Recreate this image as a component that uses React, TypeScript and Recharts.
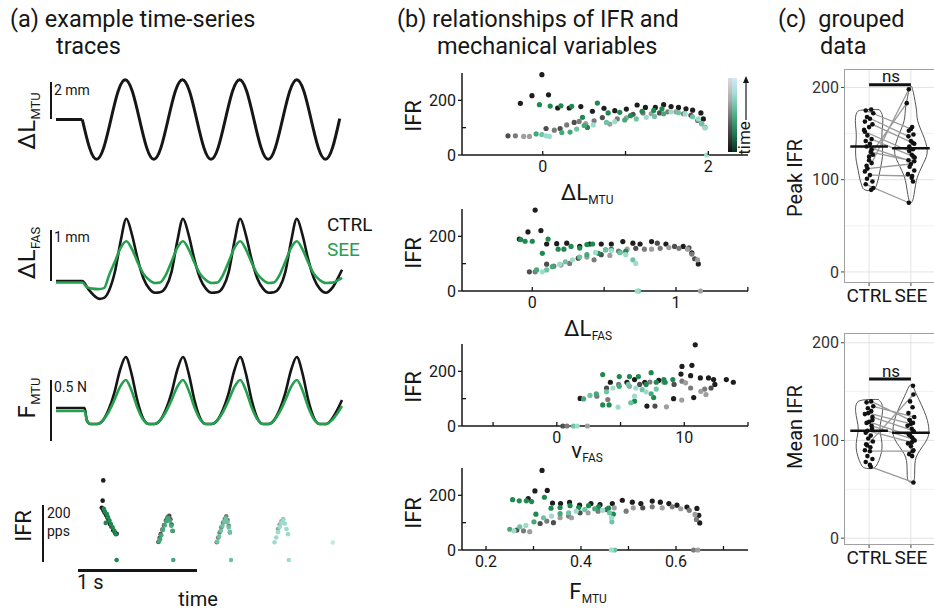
import React from 'react';
import { ScatterChart, Scatter, LineChart, Line, ComposedChart, XAxis, YAxis, ReferenceLine } from 'recharts';

const FONT = 'Roboto, "Noto Sans", "DejaVu Sans", sans-serif';
const INK = '#161616';
const GREEN = '#25a04f';
const CTRL_SHADES = ['#1d1d1d', '#4e4e4e', '#7a7a7a', '#9e9e9e'];
const SEE_SHADES = ['#1f8a4f', '#44a878', '#6cc4a2', '#9ddccd', '#bfe9e2'];

// ---------- (a) example traces: [time (s), value] ----------
const MTU_HOLD = [[0, 0], [0.23, 0]];
const MTU_SINE = [[0.23,0],[0.2925,-1.52],[0.355,-2.15],[0.4175,-1.52],[0.48,0],[0.5425,1.52],[0.605,2.15],[0.6675,1.52],[0.73,0],[0.7925,-1.52],[0.855,-2.15],[0.9175,-1.52],[0.98,0],[1.0425,1.52],[1.105,2.15],[1.1675,1.52],[1.23,0],[1.2925,-1.52],[1.355,-2.15],[1.4175,-1.52],[1.48,0],[1.5425,1.52],[1.605,2.15],[1.6675,1.52],[1.73,0],[1.7925,-1.52],[1.855,-2.15],[1.9175,-1.52],[1.98,0],[2.0425,1.52],[2.105,2.15],[2.1675,1.52],[2.23,0],[2.2925,-1.52],[2.355,-2.15],[2.4175,-1.52],[2.48,0.05]];

const FAS_CTRL = [[0,0],[0.23,0],[0.28,-0.15],[0.33,-0.28],[0.38,-0.35],[0.42,-0.33],[0.465,-0.18],[0.515,0.18],[0.565,0.78],[0.615,1.22],[0.665,0.9],[0.715,0.42],[0.765,0.05],[0.815,-0.15],[0.865,-0.23],[0.91,-0.22],[0.96,-0.12],[1.01,0.18],[1.06,0.78],[1.11,1.22],[1.16,0.9],[1.21,0.42],[1.26,0.05],[1.31,-0.15],[1.36,-0.23],[1.41,-0.22],[1.46,-0.12],[1.51,0.18],[1.56,0.78],[1.61,1.22],[1.66,0.9],[1.71,0.42],[1.76,0.05],[1.81,-0.15],[1.86,-0.23],[1.905,-0.22],[1.955,-0.12],[2.005,0.18],[2.055,0.78],[2.105,1.22],[2.155,0.9],[2.205,0.42],[2.255,0.05],[2.305,-0.15],[2.36,-0.23],[2.42,-0.12],[2.47,0.08],[2.5,0.22]];
const FAS_SEE = [[0,-0.03],[0.23,-0.03],[0.27,-0.12],[0.32,-0.15],[0.37,-0.16],[0.42,-0.14],[0.465,0.12],[0.515,0.38],[0.565,0.65],[0.615,0.78],[0.665,0.62],[0.715,0.36],[0.765,0.14],[0.815,0.02],[0.865,-0.04],[0.91,-0.03],[0.96,0.12],[1.01,0.38],[1.06,0.65],[1.11,0.78],[1.16,0.62],[1.21,0.36],[1.26,0.14],[1.31,0.02],[1.36,-0.04],[1.41,-0.03],[1.46,0.12],[1.51,0.38],[1.56,0.65],[1.61,0.78],[1.66,0.62],[1.71,0.36],[1.76,0.14],[1.81,0.02],[1.86,-0.04],[1.905,-0.03],[1.955,0.12],[2.005,0.38],[2.055,0.65],[2.105,0.78],[2.155,0.62],[2.205,0.36],[2.255,0.14],[2.305,0.02],[2.36,-0.04],[2.42,-0.03],[2.47,0.02],[2.5,0.06]];

const F_CTRL = [[0,0.133],[0.25,0.133],[0.27,0.03],[0.3,0],[0.36,0],[0.41,0.03],[0.46,0.12],[0.51,0.26],[0.56,0.45],[0.61,0.558],[0.66,0.42],[0.71,0.2],[0.76,0.05],[0.81,0],[0.86,0],[0.91,0.03],[0.96,0.12],[1.01,0.26],[1.06,0.45],[1.11,0.558],[1.16,0.42],[1.21,0.2],[1.26,0.05],[1.31,0],[1.36,0],[1.41,0.03],[1.46,0.12],[1.51,0.26],[1.56,0.45],[1.61,0.558],[1.66,0.42],[1.71,0.2],[1.76,0.05],[1.81,0],[1.86,0],[1.905,0.03],[1.955,0.12],[2.005,0.26],[2.055,0.45],[2.105,0.558],[2.155,0.42],[2.205,0.2],[2.255,0.05],[2.305,0],[2.36,0],[2.41,0.04],[2.46,0.12],[2.5,0.2]];
const F_SEE = [[0,0.108],[0.25,0.108],[0.27,0.03],[0.3,0],[0.36,0],[0.41,0.03],[0.46,0.1],[0.51,0.2],[0.56,0.31],[0.61,0.367],[0.66,0.28],[0.71,0.14],[0.76,0.04],[0.81,0],[0.86,0],[0.91,0.03],[0.96,0.1],[1.01,0.2],[1.06,0.31],[1.11,0.367],[1.16,0.28],[1.21,0.14],[1.26,0.04],[1.31,0],[1.36,0],[1.41,0.03],[1.46,0.1],[1.51,0.2],[1.56,0.31],[1.61,0.367],[1.66,0.28],[1.71,0.14],[1.76,0.04],[1.81,0],[1.86,0],[1.905,0.03],[1.955,0.1],[2.005,0.2],[2.055,0.31],[2.105,0.367],[2.155,0.28],[2.205,0.14],[2.255,0.04],[2.305,0],[2.36,0],[2.41,0.03],[2.46,0.09],[2.5,0.15]];

// IFR over time: [time (s), IFR (pps), stretch cycle]
const IFR_T_CTRL = [[0.413,283,0],[0.408,211,0],[0.4,186,0],[0.415,176,0],[0.425,168,0],[0.438,160,0],[0.45,150,0],[0.46,140,0],[0.472,128,0],[0.485,118,0],[0.5,106,0],[0.515,98,0],[0.53,93,0],
[0.895,64,1],[0.905,78,1],[0.915,92,1],[0.93,108,1],[0.945,124,1],[0.96,140,1],[0.975,152,1],[0.99,157,1],[1.0,145,1],[1.01,126,1],[1.02,103,1],
[1.405,63,2],[1.418,80,2],[1.43,98,2],[1.445,116,2],[1.46,133,2],[1.475,146,2],[1.488,155,2],[1.5,142,2],[1.51,122,2],[1.52,98,2],
[1.94,110,3],[1.955,126,3],[1.97,138,3],[1.985,145,3]];
const IFR_T_SEE = [[0.418,182,0],[0.428,172,0],[0.435,132,0],[0.445,163,0],[0.455,152,0],[0.468,140,0],[0.48,128,0],[0.495,116,0],[0.51,104,0],[0.522,92,0],[0.53,0,0],
[0.9,66,1],[0.91,74,1],[0.92,88,1],[0.935,108,1],[0.95,124,1],[0.965,138,1],[0.98,149,1],[0.995,140,1],[1.008,122,1],[1.018,104,1],[1.025,0,1],
[1.41,66,2],[1.425,84,2],[1.44,104,2],[1.455,121,2],[1.47,136,2],[1.485,147,2],[1.498,134,2],[1.51,116,2],[1.52,100,2],[1.53,0,2],
[1.91,63,3],[1.925,80,3],[1.94,99,3],[1.955,117,3],[1.97,131,3],[1.985,142,3],[2.0,130,3],[2.015,110,3],[2.028,92,3],[2.035,0,3],
[2.42,62,4]];

// ---------- (b) IFR vs mechanical variables: [x, IFR, cycle] ----------
const B1_CTRL = [[-0.27,189,0],[-0.13,217,0],[-0.01,294,0],[0.07,220,0],[0.18,172,0],[0.32,172,0],[0.46,177,0],[0.6,160,0],[0.74,171,0],[0.87,162,0],[1.01,168,0],[1.14,183,0],[1.24,174,0],[1.36,174,0],[1.46,184,0],[1.55,177,0],[1.64,174,0],[1.73,169,0],[1.81,164,0],[1.91,154,0],[1.94,132,0],
[-0.42,70,1],[-0.33,70,2],[-0.23,68,3],[-0.16,68,3],[0.04,97,1],[0.14,91,2],[0.21,97,1],[0.29,110,2],[0.38,119,1],[0.44,123,2],[0.52,115,3],[0.62,125,2],[0.72,137,1],[0.81,113,3],[0.9,132,2],[1.01,136,3],[1.09,149,1],[1.21,154,2],[1.31,151,3],[1.41,154,1],[1.51,158,2],[1.61,158,3],[1.7,151,2],[1.79,145,1],[1.87,126,2],[1.92,115,3],[1.96,101,2]];
const B1_SEE = [[-0.04,184,0],[0.09,179,0],[0.22,180,0],[0.35,178,0],[0.48,138,0],[0.54,101,0],[0.66,190,0],[0.79,154,0],[0.93,156,0],[1.06,144,0],[1.2,160,0],[1.34,163,0],[1.44,169,0],
[-0.08,77,1],[-0.01,75,2],[0.04,70,3],[0.08,68,3],[0.23,82,1],[0.33,84,1],[0.41,95,2],[0.5,108,1],[0.61,110,3],[0.77,119,2],[0.87,122,3],[0.99,128,1],[1.13,132,2],[1.25,138,3],[1.35,141,2],[1.46,151,1],[1.55,158,3],[1.64,155,2],[1.72,150,3],[1.81,140,2],[1.88,132,3],[1.92,114,2],[1.96,99,3],[1.98,0,3]];

const B2_CTRL = [[-0.09,190,0],[-0.03,216,0],[0.02,296,0],[0.06,221,0],[0.1,172,0],[0.17,173,0],[0.24,175,0],[0.33,163,0],[0.4,172,0],[0.48,172,0],[0.55,172,0],[0.63,181,0],[0.7,175,0],[0.75,172,0],[0.83,181,0],[0.87,175,1],[0.93,172,0],[0.99,163,1],[1.05,163,0],[1.09,158,1],[1.11,140,0],[1.13,118,1],[1.155,99,0],
[-0.02,70,1],[0.02,70,2],[0.1,98,1],[0.15,91,2],[0.2,95,3],[0.26,101,2],[0.32,120,1],[0.38,124,3],[0.43,114,2],[0.48,133,1],[0.54,130,3],[0.6,146,2],[0.66,153,3],[0.72,156,1],[0.78,153,2],[0.83,153,3],[0.89,156,2],[0.95,159,3],[1.02,156,2],[1.08,153,3],[1.11,135,2],[1.15,114,3],[1.17,0,3]];
const B2_SEE = [[-0.08,188,0],[-0.05,182,0],[0.0,182,0],[0.11,190,0],[0.07,138,0],[0.18,153,0],[0.22,153,0],[0.27,163,0],[0.33,157,0],[0.38,170,0],[0.42,172,0],[0.46,138,0],[0.51,151,0],[0.55,153,0],[0.61,141,0],[0.65,145,0],
[0.03,77,1],[0.07,70,3],[0.1,77,2],[0.14,89,1],[0.19,98,3],[0.23,107,2],[0.28,114,3],[0.33,124,2],[0.38,133,1],[0.44,141,3],[0.51,151,2],[0.55,148,3],[0.61,140,2],[0.65,133,3],[0.7,114,2],[0.72,101,3],[0.73,0,3],[0.74,0,2]];

const B3_CTRL = [[10.86,297,0],[9.82,218,0],[10.6,222,0],[9.74,190,0],[10.5,184,0],[11.26,176,0],[11.9,176,0],[12.3,170,0],[13.3,170,0],[13.85,160,0],[12.4,152,0],[9.16,100,0],[10.74,104,0],[7.07,73,0],[7.7,73,1],[1.83,101,0],[4.2,160,0],[5.5,160,0],[6.1,170,0],[6.9,160,0],[8.0,167,0],
[3.14,109,2],[3.9,139,1],[4.85,152,2],[5.7,145,3],[6.5,152,1],[7.3,161,2],[8.4,160,3],[9.2,152,1],[9.82,164,2],[10.1,158,3],[10.5,139,2],[11.3,127,3],[11.6,135,2],[12.1,139,1],[11.7,115,3],[9.8,95,3],[8.6,70,3],[0.47,0,1],[0.8,0,2],[2.4,0,3],[4.0,97,2]];
const B3_SEE = [[3.6,188,0],[4.9,181,0],[5.7,181,0],[6.4,181,0],[7.4,195,0],[8.4,170,0],[9.1,170,0],[8.5,160,0],[7.8,160,0],[7.0,152,0],[7.6,104,0],[6.1,91,0],[3.6,77,0],[4.1,77,0],
[2.1,99,1],[2.6,112,2],[3.1,118,1],[3.9,125,2],[4.4,139,3],[4.9,145,1],[5.6,152,2],[6.2,139,3],[6.7,133,2],[7.0,125,3],[7.4,118,1],[7.8,135,2],[6.1,109,3],[5.8,85,2],[4.8,69,3],[1.6,0,3],[1.3,0,2]];

const B4_CTRL = [[0.318,291,0],[0.303,216,0],[0.329,218,0],[0.289,188,0],[0.34,172,0],[0.357,170,0],[0.376,174,0],[0.397,164,0],[0.421,170,0],[0.44,166,0],[0.466,170,0],[0.487,182,0],[0.508,175,0],[0.526,170,0],[0.55,179,0],[0.567,175,0],[0.585,170,0],[0.602,164,0],[0.623,157,0],[0.644,152,0],[0.648,127,0],[0.65,99,0],
[0.265,73,1],[0.279,70,2],[0.292,67,3],[0.314,97,1],[0.328,106,2],[0.342,100,1],[0.356,118,3],[0.374,124,2],[0.38,118,3],[0.398,136,1],[0.415,136,3],[0.436,142,2],[0.454,148,1],[0.47,154,3],[0.495,142,2],[0.51,154,3],[0.53,154,1],[0.55,158,2],[0.571,154,3],[0.592,158,2],[0.61,151,3],[0.628,145,2],[0.64,130,3],[0.643,112,2],[0.646,0,3],[0.637,0,2]];
const B4_SEE = [[0.256,184,0],[0.27,180,0],[0.285,180,0],[0.296,177,0],[0.323,193,0],[0.305,131,0],[0.337,153,0],[0.356,155,0],[0.377,162,0],[0.395,155,0],[0.416,162,0],[0.437,158,0],[0.458,153,0],[0.468,131,0],
[0.25,76,1],[0.259,70,3],[0.271,85,2],[0.284,90,3],[0.301,103,1],[0.321,118,2],[0.338,124,3],[0.356,133,1],[0.374,136,2],[0.39,142,3],[0.408,148,2],[0.429,151,1],[0.446,145,3],[0.46,136,2],[0.464,118,3],[0.465,103,2],[0.464,0,3],[0.471,0,2]];

// ---------- (c) grouped data ----------
// dots: [IFR, jitter]; pairs: [ctrl IFR, ctrl jitter, SEE IFR, SEE jitter]; violins: [IFR, half width]
const PEAK_CTRL = [[176,0.05],[172,0.1],[166,0.02],[163,-0.1],[157,0.0],[154,-0.12],[148,-0.04],[142,-0.08],[139,0.02],[133,0.06],[127,0.09],[121,0.0],[115,-0.06],[109,-0.1],[101,-0.05],[98,0.08],[91,0.1],[89,0.05]];
const PEAK_SEE = [[157,0.03],[153,-0.05],[149,0.06],[142,0.0],[139,0.08],[136,-0.04],[133,0.05],[127,0.02],[124,0.09],[114,-0.03],[110,0.08],[106,-0.07],[102,0.02],[98,0.05]];
const PEAK_PAIRS = [[175,-0.08,155,0.0],[168,-0.05,147,-0.06],[160,0.08,140,0.04],[152,-0.1,131,-0.04],[144,0.06,125,0.06],[136,-0.06,121,-0.06],[130,0.04,120,0.08],[125,0.0,183,-0.1],[118,0.06,198,-0.05],[112,-0.04,117,0.0],[105,0.02,104,0.03],[95,-0.08,75,-0.05]];
const PEAK_VIOLIN_CTRL = [[176,0.24],[173,0.3],[168,0.33],[160,0.33],[150,0.3],[140,0.31],[130,0.33],[120,0.31],[110,0.26],[100,0.22],[93,0.17],[88,0.13]];
const PEAK_VIOLIN_SEE = [[201,0.02],[195,0.06],[185,0.1],[175,0.14],[168,0.14],[160,0.18],[150,0.28],[140,0.36],[132,0.4],[125,0.38],[118,0.3],[110,0.22],[103,0.15],[95,0.11],[88,0.09],[80,0.06],[75,0.03]];
const PEAK_MEANS = [136, 134];
const PEAK_SIG = 203;

const MEAN_CTRL = [[139,-0.06],[133,-0.03],[130,0.05],[127,-0.1],[121,0.08],[118,-0.06],[112,0.07],[108,-0.08],[105,0.04],[102,-0.02],[99,0.09],[96,-0.07],[93,0.03],[90,-0.1],[84,-0.04],[81,0.08],[78,-0.08],[75,0.02]];
const MEAN_SEE = [[156,0.05],[140,-0.02],[134,0.04],[128,-0.06],[121,-0.03],[118,0.05],[115,-0.08],[112,0.02],[109,0.07],[106,-0.05],[103,0.03],[100,0.09],[97,-0.07],[94,0.0],[90,0.06],[86,-0.04],[84,0.03]];
const MEAN_PAIRS = [[140,0.05,121,-0.03],[135,0.1,124,0.08],[128,-0.02,117,0.0],[124,0.08,110,0.05],[119,0.0,105,-0.02],[115,0.06,101,0.06],[110,-0.04,98,0.02],[95,-0.05,147,0.06],[89,0.02,89,0.04],[73,0.04,57,0.06]];
const MEAN_VIOLIN_CTRL = [[142,0.22],[138,0.32],[130,0.33],[121,0.29],[111,0.24],[102,0.3],[92,0.32],[83,0.27],[76,0.2],[71,0.14]];
const MEAN_VIOLIN_SEE = [[157,0.04],[150,0.1],[143,0.18],[130,0.32],[121,0.4],[108,0.45],[100,0.38],[94,0.28],[86,0.15],[80,0.1],[72,0.09],[64,0.09],[57,0.08]];
const MEAN_MEANS = [110, 108];
const MEAN_SIG = 163;

// ---------- helpers ----------
const toTV = (a: number[][]) => a.map(([t, v]) => ({ x: t, y: v }));

function Txt({ x, y, size, children, color = INK, align = 'left', rotate = false }: any) {
  let transform = 'translateY(-50%)';
  if (align === 'center') transform = 'translate(-50%, -50%)';
  if (rotate) transform = 'translate(-50%, -50%) rotate(-90deg)';
  return (
    <div style={{ position: 'absolute', left: x, top: y, fontSize: size, lineHeight: 1, whiteSpace: 'nowrap', color, transform, fontFamily: FONT }}>
      {children}
    </div>
  );
}
const Sub = ({ children }: any) => (
  <span style={{ fontSize: '0.54em', position: 'relative', top: '0.36em', marginLeft: '0.03em' }}>{children}</span>
);
const Bar = ({ x, y, w, h }: any) => (
  <div style={{ position: 'absolute', left: x, top: y, width: w, height: h, background: INK }} />
);

function dotShape(fill: string, r: number) {
  return (p: any) => <circle cx={p.cx} cy={p.cy} r={r} fill={fill} />;
}
function groupSeries(list: number[][], shades: string[], key: string, r: number) {
  return shades.map((col, i) => {
    const d = list.filter((q) => q[2] === i).map((q) => ({ x: q[0], y: q[1] }));
    if (!d.length) return null;
    return <Scatter key={key + i} data={d} fill={col} shape={dotShape(col, r)} isAnimationActive={false} />;
  });
}

const near = (a: number, b: number) => Math.abs(a - b) < 1e-6;
function makeXTick(labels: number[]) {
  return (p: any) => {
    const v = p.payload.value;
    const show = labels.some((l) => near(l, v));
    return (
      <g>
        <line x1={p.x} x2={p.x} y1={p.y} y2={p.y - 4} stroke={INK} strokeWidth={1.3} />
        {show && (
          <text x={p.x} y={p.y + 17} textAnchor="middle" fontSize={16} fill={INK}>{String(v)}</text>
        )}
      </g>
    );
  };
}
function makeYTick(labels: number[]) {
  return (p: any) => {
    const v = p.payload.value;
    const show = labels.some((l) => near(l, v));
    return (
      <g>
        <line x1={p.x} x2={show ? p.x - 4 : p.x + 4} y1={p.y} y2={p.y} stroke={INK} strokeWidth={1.3} />
        {show && (
          <text x={p.x - 6} y={p.y} dy="0.36em" textAnchor="end" fontSize={16} fill={INK}>{String(v)}</text>
        )}
      </g>
    );
  };
}

function BPanel({ top, xDomain, xTicks, xLabels, ctrl, see }: any) {
  const H = 82;
  return (
    <div style={{ position: 'absolute', left: 400, top: top - 10 }}>
      <ScatterChart width={353} height={10 + H + 30} margin={{ top: 10, right: 5, bottom: 0, left: 0 }}>
        <XAxis type="number" dataKey="x" domain={xDomain} ticks={xTicks} interval={0} height={30}
          tickSize={0} tickMargin={0} tickLine={false} axisLine={{ stroke: INK, strokeWidth: 1.5 }} tick={makeXTick(xLabels)} />
        <YAxis type="number" dataKey="y" domain={[0, 300]} ticks={[0, 100, 200]} interval={0} width={62}
          tickSize={0} tickMargin={0} tickLine={false} axisLine={{ stroke: INK, strokeWidth: 1.5 }} tick={makeYTick([0, 200])} />
        {groupSeries(ctrl, CTRL_SHADES, 'c', 2.6)}
        {groupSeries(see, SEE_SHADES, 's', 2.6)}
      </ScatterChart>
    </div>
  );
}

function violinPath(widths: number[][], center: number) {
  const right = widths.map(([v, w]) => ({ x: center + w, y: v }));
  const left = widths.slice().reverse().map(([v, w]) => ({ x: center - w, y: v }));
  return [...right, ...left, right[0]];
}

function CPanel({ top, height, yDomain, ctrlDots, seeDots, pairs, vCtrl, vSee, means, sig }: any) {
  const dots = [
    ...ctrlDots.map(([v, j]: number[]) => ({ x: 1 + j, y: v })),
    ...seeDots.map(([v, j]: number[]) => ({ x: 2 + j, y: v })),
    ...pairs.flatMap(([c, cj, s, sj]: number[]) => [{ x: 1 + cj, y: c }, { x: 2 + sj, y: s }]),
  ];
  const pairLines = pairs.flatMap(([c, cj, s, sj]: number[]) => [{ x: 1 + cj, y: c }, { x: 2 + sj, y: s }, { x: 1.5, y: null }]);
  return (
    <>
      <div style={{ position: 'absolute', left: 804, top: top - 5 }}>
        <ComposedChart width={132} height={5 + height + 30} margin={{ top: 5, right: 0, bottom: 0, left: 0 }}>
          <XAxis type="number" dataKey="x" domain={[0.4, 2.6]} ticks={[1, 2]} interval={0}
            tickFormatter={(v: number) => (v === 1 ? 'CTRL' : 'SEE')} height={30} tickSize={3} tickMargin={3}
            axisLine={false} tickLine={{ stroke: '#444' }} tick={{ fontSize: 19, fill: INK }} />
          <YAxis type="number" dataKey="y" domain={yDomain} ticks={[0, 100, 200]} interval={0} width={40}
            tickSize={3} tickMargin={2} axisLine={false} tickLine={{ stroke: '#444' }} tick={{ fontSize: 16, fill: '#333' }} />
          {[50, 150].map((v) => <ReferenceLine key={'m' + v} y={v} stroke="#f1f1f1" strokeWidth={1} />)}
          {[0, 100, 200].map((v) => <ReferenceLine key={'M' + v} y={v} stroke="#e3e3e3" strokeWidth={1} />)}
          {[1, 2].map((v) => <ReferenceLine key={'V' + v} x={v} stroke="#e3e3e3" strokeWidth={1} />)}
          <Line data={violinPath(vCtrl, 1)} dataKey="y" type="basis" stroke="#555" strokeWidth={1} dot={false} isAnimationActive={false} />
          <Line data={violinPath(vSee, 2)} dataKey="y" type="basis" stroke="#555" strokeWidth={1} dot={false} isAnimationActive={false} />
          <Line data={pairLines} dataKey="y" type="linear" stroke="#9a9a9a" strokeWidth={1.3} dot={false} connectNulls={false} isAnimationActive={false} />
          <Scatter data={dots} fill="#111" shape={dotShape('#111', 2.3)} isAnimationActive={false} />
          <Line data={[{ x: 0.55, y: means[0] }, { x: 1.45, y: means[0] }]} dataKey="y" type="linear" stroke="#111" strokeWidth={2.5} dot={false} isAnimationActive={false} />
          <Line data={[{ x: 1.55, y: means[1] }, { x: 2.45, y: means[1] }]} dataKey="y" type="linear" stroke="#111" strokeWidth={2.5} dot={false} isAnimationActive={false} />
          <Line data={[{ x: 1, y: sig }, { x: 2, y: sig }]} dataKey="y" type="linear" stroke="#111" strokeWidth={3} dot={false} isAnimationActive={false} />
        </ComposedChart>
      </div>
      <div style={{ position: 'absolute', left: 844, top, width: 93, height, border: '1px solid #a0a0a0', boxSizing: 'border-box', pointerEvents: 'none' }} />
    </>
  );
}

function Trace({ top, height, domain, series }: any) {
  return (
    <div style={{ position: 'absolute', left: 50, top: top - 6 }}>
      <LineChart width={298} height={height + 12} margin={{ top: 6, right: 6, bottom: 6, left: 6 }}>
        <XAxis type="number" dataKey="x" domain={[0, 2.5]} hide />
        <YAxis type="number" dataKey="y" domain={domain} hide />
        {series.map((s: any, i: number) => (
          <Line key={i} data={toTV(s.data)} dataKey="y" type={s.type || 'monotone'} stroke={s.color} strokeWidth={s.w}
            dot={false} isAnimationActive={false} />
        ))}
      </LineChart>
    </div>
  );
}

export default function App() {
  return (
    <div style={{ position: 'absolute', left: 0, top: 0, width: 934, height: 611, overflow: 'hidden', background: '#fff', fontFamily: FONT, color: INK }}>
      {/* titles */}
      <Txt x={10} y={20} size={23.5}>(a) example time-series</Txt>
      <Txt x={56} y={47} size={23.5}>traces</Txt>
      <Txt x={397} y={20} size={23.5}>(b) relationships of IFR and</Txt>
      <Txt x={437} y={47} size={23.5}>mechanical variables</Txt>
      <Txt x={778} y={20} size={23.5}>(c)&nbsp; grouped</Txt>
      <Txt x={820} y={47} size={23.5}>data</Txt>

      {/* (a) traces */}
      <Trace top={64} height={111} domain={[-3, 3]} series={[
        { data: MTU_HOLD, color: INK, w: 3, type: 'linear' },
        { data: MTU_SINE, color: INK, w: 3, type: 'natural' },
      ]} />
      <Trace top={179} height={153} domain={[-1, 2]} series={[
        { data: FAS_CTRL, color: INK, w: 2.6 },
        { data: FAS_SEE, color: GREEN, w: 2.6 },
      ]} />
      <Trace top={304} height={180} domain={[-0.5, 1]} series={[
        { data: F_CTRL, color: INK, w: 2.6 },
        { data: F_SEE, color: GREEN, w: 2.6 },
      ]} />
      <div style={{ position: 'absolute', left: 50, top: 464 }}>
        <ScatterChart width={298} height={102} margin={{ top: 6, right: 6, bottom: 6, left: 6 }}>
          <XAxis type="number" dataKey="x" domain={[0, 2.5]} hide />
          <YAxis type="number" dataKey="y" domain={[0, 320]} hide />
          {groupSeries(IFR_T_CTRL, CTRL_SHADES, 'tc', 2.3)}
          {groupSeries(IFR_T_SEE, SEE_SHADES, 'ts', 2.3)}
        </ScatterChart>
      </div>

      <Txt x={27} y={121} size={24} rotate>ΔL<Sub>MTU</Sub></Txt>
      <Txt x={27} y={253} size={24} rotate>ΔL<Sub>FAS</Sub></Txt>
      <Txt x={27} y={398} size={24} rotate>F<Sub>MTU</Sub></Txt>
      <Txt x={24} y={526} size={22} rotate>IFR</Txt>

      <Bar x={50} y={82} w={2} h={37} />
      <Txt x={54} y={90} size={14}>2 mm</Txt>
      <Bar x={50} y={230} w={2} h={51} />
      <Txt x={54} y={237} size={14}>1 mm</Txt>
      <Bar x={50} y={380} w={2} h={61} />
      <Txt x={54} y={387} size={14}>0.5 N</Txt>
      <Bar x={42} y={505} w={2} h={57} />
      <Txt x={47} y={513} size={14}>200</Txt>
      <Txt x={47} y={531} size={14}>pps</Txt>
      <Bar x={78} y={569} w={119} h={2.5} />
      <Txt x={77} y={582} size={20}>1 s</Txt>
      <Txt x={198} y={599} size={20} align="center">time</Txt>

      <Txt x={327} y={224} size={19}>CTRL</Txt>
      <Txt x={327} y={249} size={19} color={GREEN}>SEE</Txt>

      {/* (b) scatter panels */}
      <BPanel top={73} xDomain={[-0.975, 2.479]} xTicks={[0, 1, 2]} xLabels={[0, 2]} ctrl={B1_CTRL} see={B1_SEE} />
      <BPanel top={209} xDomain={[-0.489, 1.501]} xTicks={[0, 0.5, 1, 1.5]} xLabels={[0, 1]} ctrl={B2_CTRL} see={B2_SEE} />
      <BPanel top={344} xDomain={[-7.44, 15]} xTicks={[-5, 0, 5, 10, 15]} xLabels={[0, 10]} ctrl={B3_CTRL} see={B3_SEE} />
      <BPanel top={468} xDomain={[0.1495, 0.7516]} xTicks={[0.2, 0.3, 0.4, 0.5, 0.6, 0.7]} xLabels={[0.2, 0.4, 0.6]} ctrl={B4_CTRL} see={B4_SEE} />

      <Txt x={414} y={116} size={22} rotate>IFR</Txt>
      <Txt x={414} y={253} size={22} rotate>IFR</Txt>
      <Txt x={414} y={387} size={22} rotate>IFR</Txt>
      <Txt x={414} y={513} size={22} rotate>IFR</Txt>
      <Txt x={587} y={193} size={22} align="center">ΔL<Sub>MTU</Sub></Txt>
      <Txt x={588} y={329} size={22} align="center">ΔL<Sub>FAS</Sub></Txt>
      <Txt x={587} y={451} size={22} align="center">v<Sub>FAS</Sub></Txt>
      <Txt x={588} y={592} size={22} align="center">F<Sub>MTU</Sub></Txt>

      {/* time colour bar */}
      <div style={{ position: 'absolute', left: 728, top: 78, width: 4, height: 74, background: 'linear-gradient(to top, #111 0%, #555 35%, #aaa 70%, #dcdcdc 100%)' }} />
      <div style={{ position: 'absolute', left: 732, top: 78, width: 5, height: 74, background: 'linear-gradient(to top, #0b2e22 0%, #1f7a55 25%, #5cb894 55%, #a8dcd8 80%, #d2e8f8 100%)' }} />
      <Txt x={744} y={138} size={17} rotate>time</Txt>
      <svg style={{ position: 'absolute', left: 740, top: 74 }} width={12} height={52}>
        <line x1={6} x2={6} y1={46} y2={6} stroke={INK} strokeWidth={1.2} />
        <polygon points="6,2 3,9 9,9" fill={INK} />
      </svg>

      {/* (c) grouped data */}
      <CPanel top={69} height={214} yDomain={[-12, 220]} ctrlDots={PEAK_CTRL} seeDots={PEAK_SEE} pairs={PEAK_PAIRS}
        vCtrl={PEAK_VIOLIN_CTRL} vSee={PEAK_VIOLIN_SEE} means={PEAK_MEANS} sig={PEAK_SIG} />
      <CPanel top={333} height={212} yDomain={[-7, 210]} ctrlDots={MEAN_CTRL} seeDots={MEAN_SEE} pairs={MEAN_PAIRS}
        vCtrl={MEAN_VIOLIN_CTRL} vSee={MEAN_VIOLIN_SEE} means={MEAN_MEANS} sig={MEAN_SIG} />
      <Txt x={891} y={76} size={17} align="center">ns</Txt>
      <Txt x={891} y={371} size={17} align="center">ns</Txt>
      <Txt x={795} y={178} size={20} rotate>Peak IFR</Txt>
      <Txt x={795} y={427} size={20} rotate>Mean IFR</Txt>
    </div>
  );
}
